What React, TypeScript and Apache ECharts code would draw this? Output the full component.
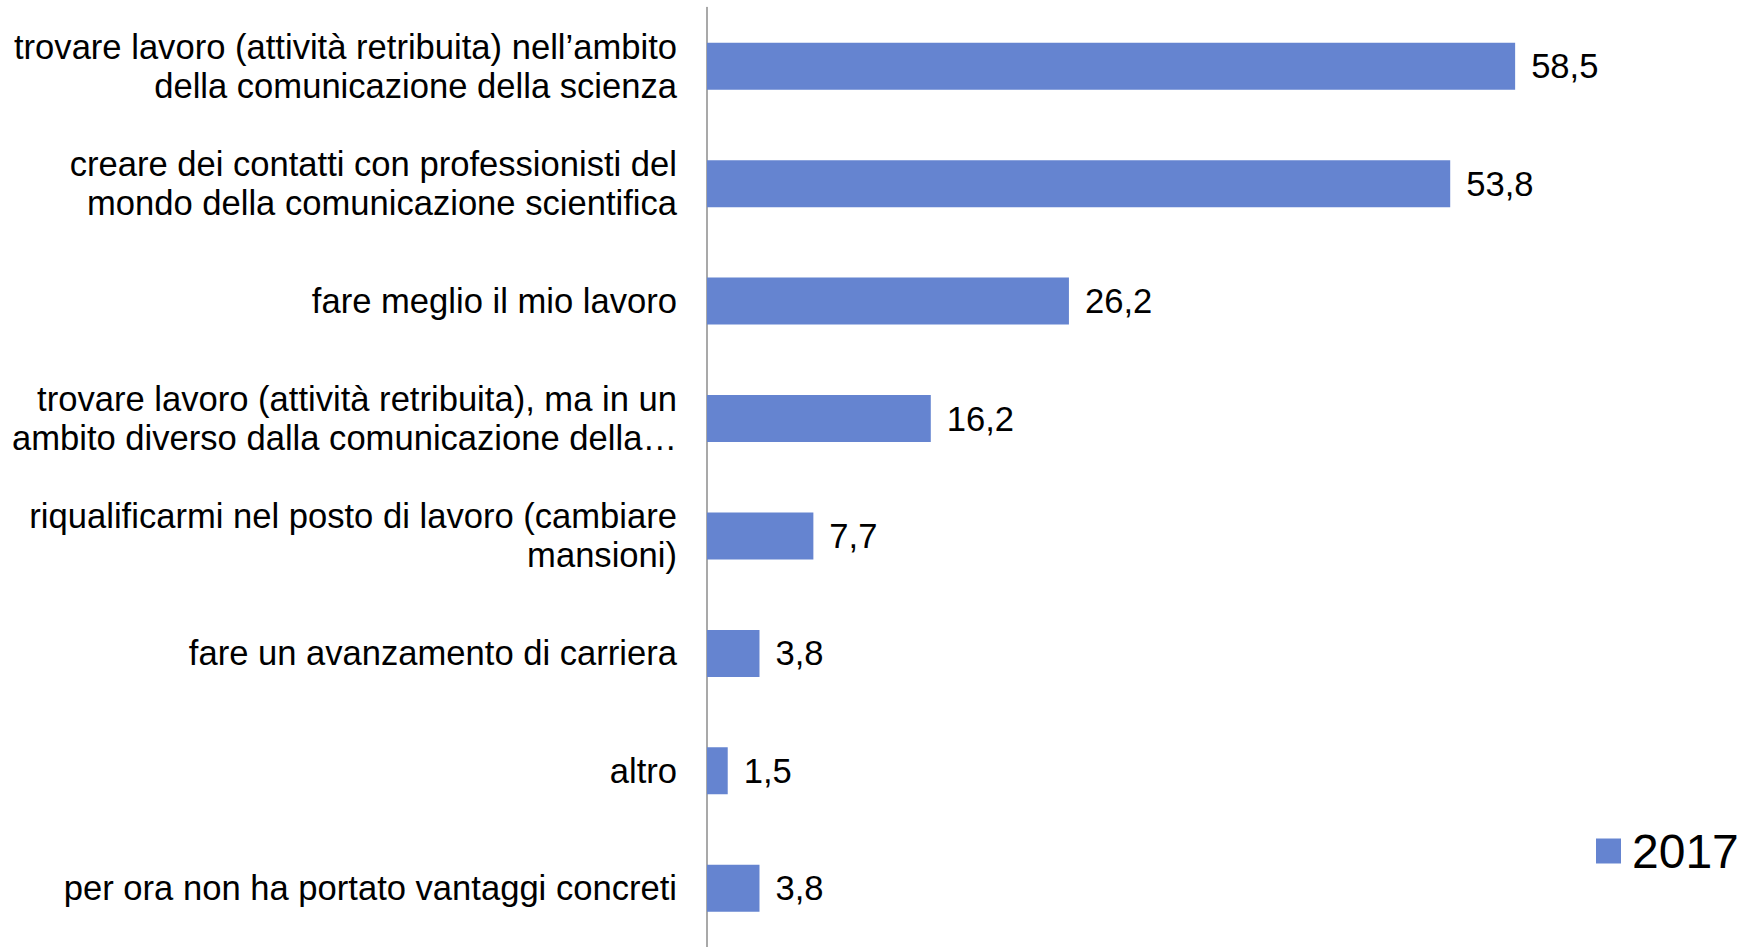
import React, { useEffect, useRef } from "react";
import * as echarts from "echarts";

const categories: string[] = [
  "trovare lavoro (attività retribuita) nell’ambito\ndella comunicazione della scienza",
  "creare dei contatti con professionisti del\nmondo della comunicazione scientifica",
  "fare meglio il mio lavoro",
  "trovare lavoro (attività retribuita), ma in un\nambito diverso dalla comunicazione della…",
  "riqualificarmi nel posto di lavoro (cambiare\nmansioni)",
  "fare un avanzamento di carriera",
  "altro",
  "per ora non ha portato vantaggi concreti",
];

const values2017: number[] = [58.5, 53.8, 26.2, 16.2, 7.7, 3.8, 1.5, 3.8];

const seriesName = "2017";

export default function App() {
  const ref = useRef<HTMLDivElement>(null);

  useEffect(() => {
    if (!ref.current) return;
    const chart = echarts.init(ref.current, undefined, { renderer: "svg" });
    const font = "'Liberation Sans', Arial, sans-serif";
    chart.setOption({
      animation: false,
      textStyle: { fontFamily: font },
      grid: { left: 707, right: 66, top: 7.5, bottom: -5, containLabel: false },
      legend: {
        data: [seriesName],
        left: 1596,
        top: 827,
        padding: 0,
        itemWidth: 25,
        itemHeight: 25,
        icon: "rect",
        textStyle: { fontSize: 48, color: "#000", fontFamily: font, padding: [0, 0, 0, 6] },
      },
      xAxis: {
        type: "value",
        min: 0,
        max: 70,
        show: false,
        splitLine: { show: false },
      },
      yAxis: {
        type: "category",
        inverse: true,
        data: categories,
        axisLine: { show: true, lineStyle: { color: "#8c8c8c", width: 1.5 } },
        axisTick: { show: false },
        axisLabel: {
          margin: 30,
          fontSize: 34.6,
          lineHeight: 39,
          color: "#000",
          fontFamily: font,
          align: "right",
        },
      },
      series: [
        {
          name: seriesName,
          type: "bar",
          data: values2017,
          barWidth: 47,
          itemStyle: { color: "#6584D0" },
          label: {
            show: true,
            position: "right",
            distance: 16,
            fontSize: 34.6,
            color: "#000",
            fontFamily: font,
            formatter: (p: any) => String(p.value).replace(".", ","),
          },
        },
      ],
    });
    return () => chart.dispose();
  }, []);

  return (
    <div
      ref={ref}
      style={{ position: "absolute", left: 0, top: 0, width: 1740, height: 947 }}
    />
  );
}
